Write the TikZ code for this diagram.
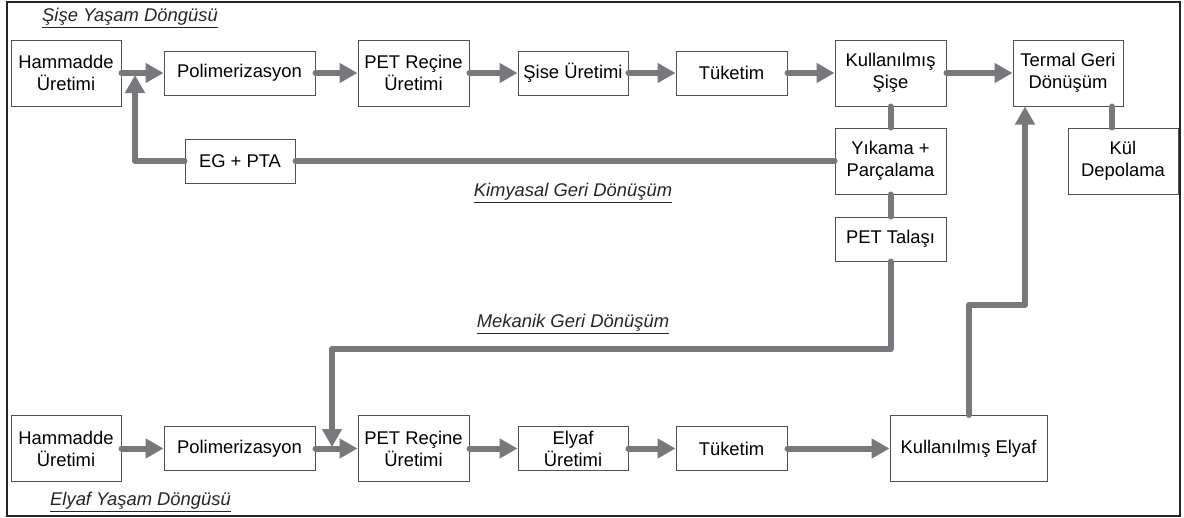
\documentclass[tikz,border=0pt]{standalone}
\usepackage{fontspec}
\setmainfont{Liberation Sans}
\usepackage{tikz}
\usetikzlibrary{arrows.meta}

\definecolor{flowgray}{RGB}{119,120,124}
\definecolor{boxgray}{RGB}{80,80,80}

\tikzset{
    box/.style={draw=boxgray, line width=1pt, align=center, inner sep=0pt,
        font=\fontsize{18.4}{22}\selectfont},
    tall/.style={box, minimum height=66pt},
    flat/.style={box, minimum height=44pt},
    flow/.style={draw=flowgray, line width=6pt, line cap=round, line join=round, ->},
    link/.style={draw=flowgray, line width=6pt, line cap=round, line join=round},
    tag/.style={font=\fontsize{18.4}{22}\selectfont\itshape, text=black!85, inner sep=0pt}
}

\begin{document}
\begin{tikzpicture}[x=1pt, y=-1pt, >={Triangle[length=18pt,width=19pt]}]
    \useasboundingbox (0,0) rectangle (1184,517);
    \draw[line width=2pt, black!85] (7,2) rectangle (1180,516);

    % Bottle life cycle
    \node (ham1) at (66,73) [tall, minimum width=110pt] {Hammadde\\Üretimi};
    \node (pol1) at (239.5,73) [flat, minimum width=151pt] {Polimerizasyon};
    \node (pet1) at (413.5,73) [tall, minimum width=111pt] {PET Reçine\\Üretimi};
    \node (sise) at (573,73) [flat, minimum width=110pt] {Şise Üretimi};
    \node (tuk1) at (731.5,73) [flat, minimum width=111pt] {Tüketim};
    \node (kull1) at (890.5,73) [tall, minimum width=111pt] {Kullanılmış\\Şişe};
    \node (term) at (1068,73) [tall, minimum width=110pt] {Termal Geri\\Dönüşüm};
    \node (kul) at (1123,161) [tall, minimum width=110pt] {Kül\\Depolama};
    \node (yik) at (890.5,161) [tall, minimum width=111pt] {Yıkama +\\Parçalama};
    \node (tal) at (890.5,239) [flat, minimum width=111pt] {PET Talaşı};
    \node (eg) at (240,161) [flat, minimum width=110pt] {EG + PTA};

    % Fibre life cycle
    \node (ham2) at (66,448.5) [tall, minimum width=110pt] {Hammadde\\Üretimi};
    \node (pol2) at (239.5,448.5) [flat, minimum width=151pt] {Polimerizasyon};
    \node (pet2) at (413.5,448.5) [tall, minimum width=111pt] {PET Reçine\\Üretimi};
    \node (ely) at (573,448.5) [flat, minimum width=110pt] {Elyaf\\Üretimi};
    \node (tuk2) at (731.5,448.5) [flat, minimum width=111pt] {Tüketim};
    \node (kull2) at (968.5,448.5) [tall, minimum width=157pt] {Kullanılmış Elyaf};

    % Labels
    \node (lsise) at (42,18) [tag, anchor=west] {\underline{Şişe Yaşam Döngüsü}};
    \node (lkim) at (573,193) [tag] {\underline{Kimyasal Geri Dönüşüm}};
    \node (lmek) at (573,324) [tag] {\underline{Mekanik Geri Dönüşüm}};
    \node (lely) at (50,502) [tag, anchor=west] {\underline{Elyaf Yaşam Döngüsü}};

    % Joints
    \coordinate (j1) at (135,75);
    \coordinate (j2) at (332,447);

    % Main flows
    \draw[flow] (ham1) -- (pol1);
    \draw[flow] (pol1) -- (pet1);
    \draw[flow] (pet1) -- (sise);
    \draw[flow] (sise) -- (tuk1);
    \draw[flow] (tuk1) -- (kull1);
    \draw[flow] (kull1) -- (term);
    \draw[link] (kull1) -- (yik);
    \draw[link] (yik) -- (tal);
    \draw[link] ([xshift=-11pt]kul.north) -- ([xshift=-11pt]kul.north |- term.south);

    \draw[flow] (ham2) -- (pol2);
    \draw[flow] (pol2) -- (pet2);
    \draw[flow] (pet2) -- (ely);
    \draw[flow] (ely) -- (tuk2);
    \draw[flow] (tuk2) -- (kull2);

    % Chemical recycling
    \draw[link] (yik) -- (eg);
    \draw[flow] (eg.west) -| (j1);

    % Mechanical recycling
    \draw[flow] (tal.south) |- (332,349) -- (j2);

    % Thermal recycling of fibre
    \draw[flow] (kull2.north) |- (1025,305) -- (term.south -| 1025,0);
\end{tikzpicture}
\end{document}
